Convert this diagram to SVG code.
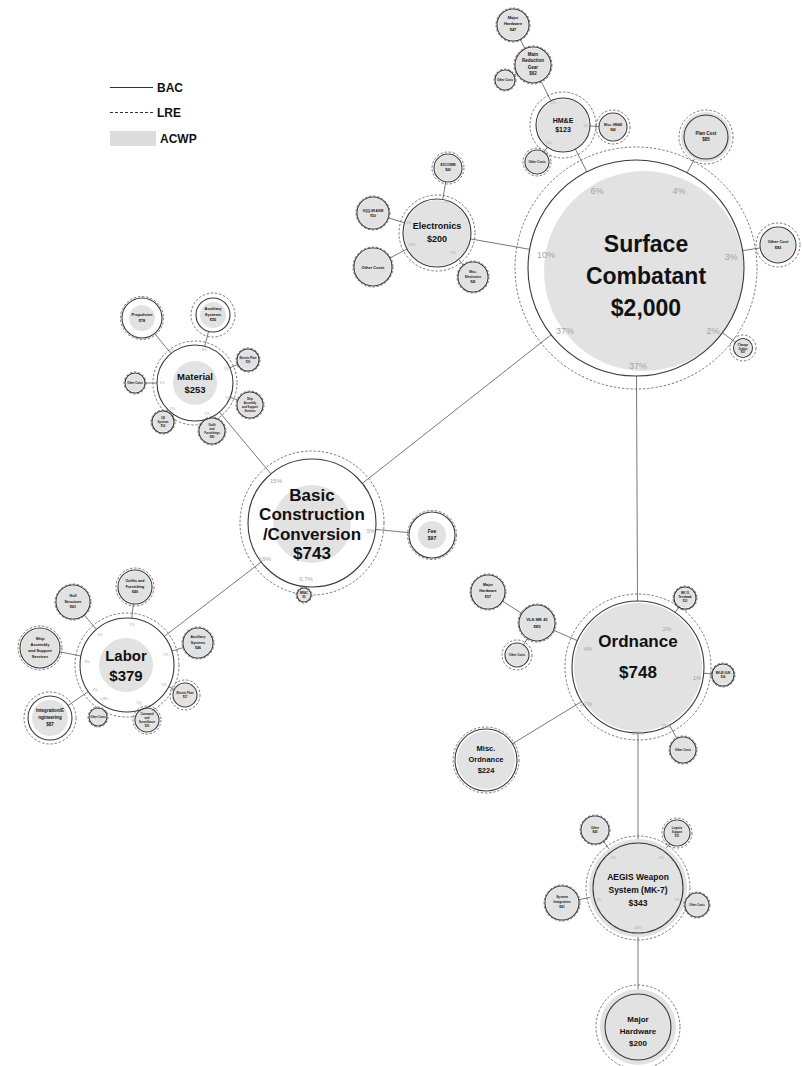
<svg xmlns="http://www.w3.org/2000/svg" width="802" height="1066" viewBox="0 0 802 1066">
<style>
  text { font-family: "Liberation Sans", Arial, sans-serif; font-weight: bold; fill: #111; text-anchor: middle; }
  .lre { fill: none; stroke: #555; stroke-width: 0.8; stroke-dasharray: 2.4 1.8; }
  .acwp { fill: #e2e2e2; stroke: none; }
  .bac { fill: none; stroke: #3a3a3a; stroke-width: 1.1; }
  .cn line { stroke: #6a6a6a; stroke-width: 0.9; }
  .pct { fill: #a3a3a3; font-weight: normal; font-size: 9px; }
  .pcs { fill: #a3a3a3; font-weight: normal; font-size: 3.5px; }
  .legend { font-size: 12px; text-anchor: start; }
</style>

<!-- legend -->
<g id="legend">
  <line x1="110" y1="87.5" x2="153" y2="87.5" stroke="#333" stroke-width="1.1"/>
  <text class="legend" x="157" y="92">BAC</text>
  <line x1="110" y1="112.5" x2="153" y2="112.5" stroke="#333" stroke-width="1" stroke-dasharray="3 2"/>
  <text class="legend" x="157" y="117">LRE</text>
  <rect x="110" y="131" width="46" height="15" fill="#dcdcdc"/>
  <text class="legend" x="160" y="143">ACWP</text>
</g>

<!-- connectors -->
<g id="connectors" class="cn">
  <line x1="687" y1="173" x2="696" y2="156"/>
  <line x1="742.5" y1="250.7" x2="760.3" y2="247.9"/>
  <line x1="722.5" y1="332.7" x2="735.8" y2="342.6"/>
  <line x1="586.9" y1="171.9" x2="575.3" y2="149"/>
  <line x1="529.6" y1="249.3" x2="470.5" y2="238.9"/>
  <line x1="636.5" y1="376" x2="637.5" y2="601"/>
  <line x1="551.1" y1="334.8" x2="362.3" y2="483.4"/>
  <line x1="550.9" y1="100.9" x2="541" y2="81.1"/>
  <line x1="525" y1="48.9" x2="520.2" y2="39.3"/>
  <line x1="517.2" y1="73.5" x2="513.8" y2="75.3"/>
  <line x1="590" y1="126" x2="599" y2="126.6"/>
  <line x1="547.5" y1="147.1" x2="543.9" y2="152.2"/>
  <line x1="442.7" y1="199.5" x2="445.7" y2="181.8"/>
  <line x1="404.5" y1="222.9" x2="388.3" y2="217.8"/>
  <line x1="407" y1="249" x2="389.8" y2="258.1"/>
  <line x1="458.5" y1="259.3" x2="463.5" y2="265.4"/>
  <line x1="171" y1="353.5" x2="154.6" y2="333.5"/>
  <line x1="204.7" y1="346.3" x2="208.6" y2="331.4"/>
  <line x1="229.8" y1="367.9" x2="237.9" y2="364.4"/>
  <line x1="230.3" y1="397.1" x2="237.9" y2="400.2"/>
  <line x1="157" y1="383" x2="145" y2="383"/>
  <line x1="219.4" y1="412.1" x2="271" y2="473.9"/>
  <line x1="375.7" y1="529.4" x2="409.1" y2="532.7"/>
  <line x1="261.2" y1="562" x2="164.3" y2="636.4"/>
  <line x1="96.4" y1="629.3" x2="84.1" y2="614.9"/>
  <line x1="131.8" y1="618.2" x2="133.3" y2="603.9"/>
  <line x1="171.9" y1="651.1" x2="183.7" y2="647.4"/>
  <line x1="168.7" y1="686.6" x2="174.3" y2="689.5"/>
  <line x1="80.8" y1="656" x2="59.6" y2="651.8"/>
  <line x1="88.3" y1="691.6" x2="68.1" y2="705.5"/>
  <line x1="577.5" y1="640.7" x2="553.5" y2="630.2"/>
  <line x1="521.8" y1="613.4" x2="502.4" y2="601.1"/>
  <line x1="527.5" y1="638.3" x2="523.4" y2="644.8"/>
  <line x1="675.2" y1="612.5" x2="678.8" y2="607.1"/>
  <line x1="703.7" y1="673.2" x2="712" y2="674"/>
  <line x1="669.5" y1="725" x2="676.8" y2="738.6"/>
  <line x1="581.7" y1="701.5" x2="511.6" y2="744.3"/>
  <line x1="638" y1="733" x2="638" y2="843"/>
  <line x1="611.2" y1="851.9" x2="603.3" y2="841.2"/>
  <line x1="664" y1="851.3" x2="669.5" y2="843.6"/>
  <line x1="593.9" y1="896.7" x2="578.7" y2="899.7"/>
  <line x1="681.2" y1="900.5" x2="685.5" y2="901.7"/>
  <line x1="638" y1="933" x2="638" y2="994"/>
</g>

<!-- Surface Combatant -->
<g id="surface-combatant">
  <circle class="lre" cx="636" cy="268" r="121"/>
  <circle class="acwp" cx="644" cy="271" r="100"/>
  <circle class="bac" cx="636" cy="268" r="108"/>
  <text x="646" y="252" font-size="23">Surface</text>
  <text x="646" y="284" font-size="23">Combatant</text>
  <text x="646" y="316" font-size="23">$2,000</text>
  <text class="pct" x="597" y="194">6%</text>
  <text class="pct" x="679" y="194">4%</text>
  <text class="pct" x="546" y="258">10%</text>
  <text class="pct" x="731" y="260">3%</text>
  <text class="pct" x="713" y="334">2%</text>
  <text class="pct" x="565" y="334">37%</text>
  <text class="pct" x="638" y="369">37%</text>
</g>
<g id="plan-cost">
  <circle class="lre" cx="706" cy="137" r="27"/>
  <circle class="acwp" cx="706" cy="137" r="25"/>
  <circle class="bac" cx="706" cy="137" r="22"/>
  <text x="706" y="135" font-size="4.5">Plan Cost</text>
  <text x="706" y="141" font-size="4.5">$85</text>
</g>
<g id="other-cost">
  <circle class="lre" cx="778" cy="245" r="22"/>
  <circle class="acwp" cx="778" cy="245" r="17"/>
  <circle class="bac" cx="778" cy="245" r="18"/>
  <text x="778" y="243" font-size="4">Other Cost</text>
  <text x="778" y="248.5" font-size="4">$83</text>
</g>
<g id="change-orders">
  <circle class="lre" cx="743" cy="348" r="13"/>
  <circle class="acwp" cx="743" cy="348" r="8.5"/>
  <circle class="bac" cx="743" cy="348" r="9.5"/>
  <text x="743" y="346" font-size="2.8">Change</text>
  <text x="743" y="349.5" font-size="2.8">Orders</text>
  <text x="743" y="353" font-size="2.8">$37</text>
</g>

<!-- HM&E branch -->
<g id="hme">
  <circle class="lre" cx="563" cy="125" r="33"/>
  <circle class="acwp" cx="563" cy="125" r="26"/>
  <circle class="bac" cx="563" cy="125" r="27"/>
  <text x="563" y="123" font-size="7">HM&amp;E</text>
  <text x="563" y="132" font-size="7">$123</text>
  <text class="pcs" x="553" y="104">1%</text>
  <text class="pcs" x="586" y="127">1%</text>
  <text class="pcs" x="549" y="144">1%</text>
</g>
<g id="main-reduction-gear">
  <circle class="lre" cx="533" cy="65" r="19"/>
  <circle class="acwp" cx="533" cy="65" r="17"/>
  <circle class="bac" cx="533" cy="65" r="18"/>
  <text x="533" y="56" font-size="4.5">Main</text>
  <text x="533" y="62" font-size="4.5">Reduction</text>
  <text x="533" y="69" font-size="4.5">Gear</text>
  <text x="533" y="75" font-size="4.5">$62</text>
</g>
<g id="hme-major-hardware">
  <circle class="lre" cx="513" cy="25" r="17"/>
  <circle class="acwp" cx="513" cy="25" r="15"/>
  <circle class="bac" cx="513" cy="25" r="16"/>
  <text x="513" y="19" font-size="4">Major</text>
  <text x="513" y="25" font-size="4">Hardware</text>
  <text x="513" y="31" font-size="4">$47</text>
</g>
<g id="mrg-other-costs">
  <circle class="lre" cx="505" cy="80" r="11"/>
  <circle class="acwp" cx="505" cy="80" r="9"/>
  <circle class="bac" cx="505" cy="80" r="10"/>
  <text x="505" y="81" font-size="2.8">Other Costs</text>
</g>
<g id="misc-hme">
  <circle class="lre" cx="613" cy="127" r="17"/>
  <circle class="acwp" cx="613" cy="127" r="13"/>
  <circle class="bac" cx="613" cy="127" r="14"/>
  <text x="613" y="126" font-size="3.2">Misc. HM&amp;E</text>
  <text x="613" y="130.5" font-size="3.2">$44</text>
</g>
<g id="hme-other-costs">
  <circle class="lre" cx="537" cy="162" r="14"/>
  <circle class="acwp" cx="537" cy="162" r="11"/>
  <circle class="bac" cx="537" cy="162" r="12"/>
  <text x="537" y="163" font-size="3">Other Costs</text>
</g>

<!-- Electronics branch -->
<g id="electronics">
  <circle class="lre" cx="437" cy="233" r="38"/>
  <circle class="acwp" cx="437" cy="233" r="33"/>
  <circle class="bac" cx="437" cy="233" r="34"/>
  <text x="437" y="229" font-size="9">Electronics</text>
  <text x="437" y="242" font-size="9">$200</text>
  <text class="pcs" x="446" y="203">2%</text>
  <text class="pcs" x="409" y="224">3%</text>
  <text class="pcs" x="412" y="246">10%</text>
  <text class="pcs" x="453" y="254">2%</text>
</g>
<g id="excomm">
  <circle class="lre" cx="448" cy="168" r="16"/>
  <circle class="acwp" cx="448" cy="168" r="13"/>
  <circle class="bac" cx="448" cy="168" r="14"/>
  <text x="448" y="166" font-size="3.3">EXCOMM</text>
  <text x="448" y="171" font-size="3.3">$40</text>
</g>
<g id="sqq-89">
  <circle class="lre" cx="373" cy="213" r="17"/>
  <circle class="acwp" cx="373" cy="213" r="15"/>
  <circle class="bac" cx="373" cy="213" r="16"/>
  <text x="373" y="212" font-size="3.3">SQQ-89 ASW</text>
  <text x="373" y="217" font-size="3.3">$50</text>
</g>
<g id="electronics-other-costs">
  <circle class="lre" cx="373" cy="267" r="20"/>
  <circle class="acwp" cx="373" cy="267" r="18"/>
  <circle class="bac" cx="373" cy="267" r="19"/>
  <text x="373" y="268.5" font-size="4">Other Costs</text>
</g>
<g id="misc-electronics">
  <circle class="lre" cx="473" cy="277" r="16"/>
  <circle class="acwp" cx="473" cy="277" r="14"/>
  <circle class="bac" cx="473" cy="277" r="15"/>
  <text x="473" y="273" font-size="3">Misc.</text>
  <text x="473" y="278" font-size="3">Electronics</text>
  <text x="473" y="283" font-size="3">$40</text>
</g>

<!-- Basic Construction / Conversion -->
<g id="basic-construction">
  <circle class="lre" cx="312" cy="523" r="72"/>
  <circle class="acwp" cx="312" cy="524" r="39"/>
  <circle class="bac" cx="312" cy="523" r="64"/>
  <text x="312" y="501" font-size="17">Basic</text>
  <text x="312" y="520" font-size="17">Construction</text>
  <text x="312" y="540" font-size="17">/Conversion</text>
  <text x="312" y="559" font-size="17">$743</text>
  <text class="pct" x="276" y="483" style="font-size:6px">15%</text>
  <text class="pct" x="371" y="533" style="font-size:6px">5%</text>
  <text class="pct" x="265" y="561" style="font-size:6px">19%</text>
  <text class="pct" x="306" y="581" style="font-size:6px">0.7%</text>
</g>
<g id="fee">
  <circle class="lre" cx="432" cy="535" r="24.5"/>
  <circle class="acwp" cx="432" cy="535" r="14"/>
  <circle class="bac" cx="432" cy="535" r="23"/>
  <text x="432" y="533" font-size="5">Fee</text>
  <text x="432" y="540" font-size="5">$97</text>
</g>
<g id="brac">
  <circle class="lre" cx="304" cy="595" r="8"/>
  <circle class="acwp" cx="304" cy="595" r="6"/>
  <circle class="bac" cx="304" cy="595" r="7"/>
  <text x="304" y="594" font-size="2.7">BRAC</text>
  <text x="304" y="598" font-size="2.7">$5</text>
</g>

<!-- Material branch -->
<g id="material">
  <circle class="lre" cx="195" cy="383" r="42"/>
  <circle class="acwp" cx="195" cy="383" r="22"/>
  <circle class="bac" cx="195" cy="383" r="38"/>
  <text x="195" y="380" font-size="9.5">Material</text>
  <text x="195" y="393" font-size="9.5">$253</text>
  <text class="pcs" x="172" y="352">5%</text>
  <text class="pcs" x="204" y="351">3%</text>
  <text class="pcs" x="226" y="370">1%</text>
  <text class="pcs" x="228" y="399">1%</text>
  <text class="pcs" x="207" y="415">2%</text>
  <text class="pcs" x="172" y="410">1%</text>
  <text class="pcs" x="162" y="384">1%</text>
</g>
<g id="propulsion">
  <circle class="lre" cx="142" cy="318" r="21.5"/>
  <circle class="acwp" cx="142" cy="318" r="13"/>
  <circle class="bac" cx="142" cy="318" r="20"/>
  <text x="142" y="316" font-size="4">Propulsion</text>
  <text x="142" y="322" font-size="4">$78</text>
</g>
<g id="material-auxiliary">
  <circle class="lre" cx="213" cy="315" r="22"/>
  <circle class="acwp" cx="213" cy="315" r="13"/>
  <circle class="bac" cx="213" cy="315" r="17"/>
  <text x="213" y="310" font-size="4">Auxiliary</text>
  <text x="213" y="315.5" font-size="4">Systems</text>
  <text x="213" y="321" font-size="4">$55</text>
</g>
<g id="material-electric">
  <circle class="lre" cx="248" cy="360" r="12"/>
  <circle class="acwp" cx="248" cy="360" r="10"/>
  <circle class="bac" cx="248" cy="360" r="11"/>
  <text x="248" y="359" font-size="2.7">Electric Plant</text>
  <text x="248" y="363" font-size="2.7">$30</text>
</g>
<g id="material-ship-assembly">
  <circle class="lre" cx="250" cy="405" r="14"/>
  <circle class="acwp" cx="250" cy="405" r="12"/>
  <circle class="bac" cx="250" cy="405" r="13"/>
  <text x="250" y="399.5" font-size="2.7">Ship</text>
  <text x="250" y="403.5" font-size="2.7">Assembly</text>
  <text x="250" y="407.5" font-size="2.7">and Support</text>
  <text x="250" y="411.5" font-size="2.7">Services</text>
</g>
<g id="material-outfit">
  <circle class="lre" cx="212" cy="431" r="14"/>
  <circle class="acwp" cx="212" cy="431" r="12"/>
  <circle class="bac" cx="212" cy="431" r="13"/>
  <text x="212" y="425.5" font-size="2.7">Outfit</text>
  <text x="212" y="429.5" font-size="2.7">and</text>
  <text x="212" y="433.5" font-size="2.7">Furnishings</text>
  <text x="212" y="437.5" font-size="2.7">$40</text>
</g>
<g id="material-c4i">
  <circle class="lre" cx="163" cy="422" r="12"/>
  <circle class="acwp" cx="163" cy="422" r="10"/>
  <circle class="bac" cx="163" cy="422" r="11"/>
  <text x="163" y="418.5" font-size="2.7">C4I</text>
  <text x="163" y="422.5" font-size="2.7">Systems</text>
  <text x="163" y="426.5" font-size="2.7">$16</text>
</g>
<g id="material-other-costs">
  <circle class="lre" cx="135" cy="383" r="11"/>
  <circle class="acwp" cx="135" cy="383" r="9"/>
  <circle class="bac" cx="135" cy="383" r="10"/>
  <text x="135" y="384" font-size="2.7">Other Costs</text>
</g>

<!-- Labor branch -->
<g id="labor">
  <circle class="lre" cx="127" cy="665" r="52"/>
  <circle class="acwp" cx="126" cy="665" r="27"/>
  <circle class="bac" cx="127" cy="665" r="47"/>
  <text x="126" y="661" font-size="15">Labor</text>
  <text x="126" y="681" font-size="15">$379</text>
  <text class="pcs" x="100" y="636">2%</text>
  <text class="pcs" x="132" y="626">2%</text>
  <text class="pcs" x="166" y="656">2%</text>
  <text class="pcs" x="87" y="663">3%</text>
  <text class="pcs" x="164" y="686">2%</text>
  <text class="pcs" x="95" y="691">4%</text>
  <text class="pcs" x="104" y="700">0.8%</text>
  <text class="pcs" x="139" y="704">1%</text>
</g>
<g id="hull-structure">
  <circle class="lre" cx="73" cy="602" r="18"/>
  <circle class="acwp" cx="73" cy="602" r="16"/>
  <circle class="bac" cx="73" cy="602" r="17"/>
  <text x="73" y="597" font-size="3.8">Hull</text>
  <text x="73" y="602.5" font-size="3.8">Structure</text>
  <text x="73" y="608" font-size="3.8">$61</text>
</g>
<g id="labor-outfits">
  <circle class="lre" cx="135" cy="587" r="19"/>
  <circle class="acwp" cx="135" cy="587" r="16"/>
  <circle class="bac" cx="135" cy="587" r="17"/>
  <text x="135" y="582" font-size="3.6">Outfits and</text>
  <text x="135" y="587.5" font-size="3.6">Furnishing</text>
  <text x="135" y="593" font-size="3.6">$49</text>
</g>
<g id="labor-auxiliary">
  <circle class="lre" cx="198" cy="643" r="16"/>
  <circle class="acwp" cx="198" cy="643" r="14"/>
  <circle class="bac" cx="198" cy="643" r="15"/>
  <text x="198" y="638" font-size="3.5">Auxiliary</text>
  <text x="198" y="643.5" font-size="3.5">Systems</text>
  <text x="198" y="649" font-size="3.5">$46</text>
</g>
<g id="labor-electric">
  <circle class="lre" cx="185" cy="695" r="15"/>
  <circle class="acwp" cx="185" cy="695" r="11"/>
  <circle class="bac" cx="185" cy="695" r="12"/>
  <text x="185" y="694" font-size="2.7">Electric Plant</text>
  <text x="185" y="698" font-size="2.7">$27</text>
</g>
<g id="labor-command">
  <circle class="lre" cx="147" cy="720" r="14"/>
  <circle class="acwp" cx="147" cy="720" r="11"/>
  <circle class="bac" cx="147" cy="720" r="12"/>
  <text x="147" y="714.5" font-size="2.7">Command</text>
  <text x="147" y="718.5" font-size="2.7">and</text>
  <text x="147" y="722.5" font-size="2.7">Surveillance</text>
  <text x="147" y="726.5" font-size="2.7">$20</text>
</g>
<g id="labor-other-costs">
  <circle class="lre" cx="98" cy="717" r="10"/>
  <circle class="acwp" cx="98" cy="717" r="8"/>
  <circle class="bac" cx="98" cy="717" r="9"/>
  <text x="98" y="718" font-size="2.7">Other Costs</text>
</g>
<g id="labor-ship-assembly">
  <circle class="lre" cx="40" cy="648" r="22"/>
  <circle class="acwp" cx="40" cy="648" r="19"/>
  <circle class="bac" cx="40" cy="648" r="20"/>
  <text x="40" y="640" font-size="4">Ship</text>
  <text x="40" y="646" font-size="4">Assembly</text>
  <text x="40" y="652" font-size="4">and Support</text>
  <text x="40" y="658" font-size="4">Services</text>
</g>
<g id="integration-engineering">
  <circle class="lre" cx="50" cy="718" r="26"/>
  <circle class="acwp" cx="50" cy="718" r="18"/>
  <circle class="bac" cx="50" cy="718" r="22"/>
  <text x="50" y="712" font-size="4.6">Integration/E</text>
  <text x="50" y="719" font-size="4.6">ngineering</text>
  <text x="50" y="726" font-size="4.6">$87</text>
</g>

<!-- Ordnance branch -->
<g id="ordnance">
  <circle class="lre" cx="638" cy="667" r="73"/>
  <circle class="acwp" cx="638" cy="667" r="64"/>
  <circle class="bac" cx="638" cy="667" r="66"/>
  <text x="638" y="647" font-size="17">Ordnance</text>
  <text x="638" y="678" font-size="17">$748</text>
  <text class="pct" x="588" y="651" style="font-size:6px">4%</text>
  <text class="pct" x="667" y="631" style="font-size:6px">2%</text>
  <text class="pct" x="697" y="680" style="font-size:6px">1%</text>
  <text class="pct" x="666" y="728" style="font-size:6px">2%</text>
  <text class="pct" x="586" y="706" style="font-size:6px">21%</text>
  <text class="pct" x="638" y="735" style="font-size:6px">17%</text>
</g>
<g id="vls-mk41">
  <circle class="lre" cx="537" cy="623" r="19"/>
  <circle class="acwp" cx="537" cy="623" r="17"/>
  <circle class="bac" cx="537" cy="623" r="18"/>
  <text x="537" y="621" font-size="4.2">VLS MK 41</text>
  <text x="537" y="627.5" font-size="4.2">$85</text>
</g>
<g id="vls-major-hardware">
  <circle class="lre" cx="488" cy="592" r="18"/>
  <circle class="acwp" cx="488" cy="592" r="16"/>
  <circle class="bac" cx="488" cy="592" r="17"/>
  <text x="488" y="586" font-size="3.8">Major</text>
  <text x="488" y="592" font-size="3.8">Hardware</text>
  <text x="488" y="598" font-size="3.8">$57</text>
</g>
<g id="vls-other-costs">
  <circle class="lre" cx="517" cy="655" r="15"/>
  <circle class="acwp" cx="517" cy="655" r="11"/>
  <circle class="bac" cx="517" cy="655" r="12"/>
  <text x="517" y="656" font-size="2.8">Other Costs</text>
</g>
<g id="mk15">
  <circle class="lre" cx="685" cy="598" r="12"/>
  <circle class="acwp" cx="685" cy="598" r="10"/>
  <circle class="bac" cx="685" cy="598" r="11"/>
  <text x="685" y="593.5" font-size="2.7">MK 15</text>
  <text x="685" y="597.5" font-size="2.7">Terrahawk</text>
  <text x="685" y="601.5" font-size="2.7">$33</text>
</g>
<g id="mk45">
  <circle class="lre" cx="723" cy="675" r="12"/>
  <circle class="acwp" cx="723" cy="675" r="10"/>
  <circle class="bac" cx="723" cy="675" r="11"/>
  <text x="723" y="674" font-size="2.7">MK 45 GUN</text>
  <text x="723" y="678" font-size="2.7">$24</text>
</g>
<g id="ordnance-other-costs">
  <circle class="lre" cx="683" cy="750" r="14"/>
  <circle class="acwp" cx="683" cy="750" r="12"/>
  <circle class="bac" cx="683" cy="750" r="13"/>
  <text x="683" y="751" font-size="2.8">Other Costs</text>
</g>
<g id="misc-ordnance">
  <circle class="lre" cx="486" cy="760" r="33"/>
  <circle class="acwp" cx="486" cy="760" r="29"/>
  <circle class="bac" cx="486" cy="760" r="31"/>
  <text x="486" y="751" font-size="7.5">Misc.</text>
  <text x="486" y="762" font-size="7.5">Ordnance</text>
  <text x="486" y="773" font-size="7.5">$224</text>
</g>

<!-- AEGIS branch -->
<g id="aegis">
  <circle class="lre" cx="638" cy="888" r="52"/>
  <circle class="acwp" cx="638" cy="888" r="49"/>
  <circle class="bac" cx="638" cy="888" r="45"/>
  <text x="638" y="880" font-size="8.5">AEGIS Weapon</text>
  <text x="638" y="893" font-size="8.5">System (MK-7)</text>
  <text x="638" y="906" font-size="8.5">$343</text>
  <text class="pcs" x="613" y="859">2%</text>
  <text class="pcs" x="661" y="859">2%</text>
  <text class="pcs" x="599" y="901">1%</text>
  <text class="pcs" x="677" y="901">1%</text>
  <text class="pcs" x="638" y="929">10%</text>
</g>
<g id="aegis-other">
  <circle class="lre" cx="595" cy="830" r="15"/>
  <circle class="acwp" cx="595" cy="830" r="13"/>
  <circle class="bac" cx="595" cy="830" r="14"/>
  <text x="595" y="828.5" font-size="3">Other</text>
  <text x="595" y="833" font-size="3">$43</text>
</g>
<g id="logistic-support">
  <circle class="lre" cx="677" cy="833" r="15"/>
  <circle class="acwp" cx="677" cy="833" r="12"/>
  <circle class="bac" cx="677" cy="833" r="13"/>
  <text x="677" y="829" font-size="2.7">Logistic</text>
  <text x="677" y="833" font-size="2.7">Support</text>
  <text x="677" y="837" font-size="2.7">$31</text>
</g>
<g id="system-integration">
  <circle class="lre" cx="562" cy="903" r="18"/>
  <circle class="acwp" cx="562" cy="903" r="16"/>
  <circle class="bac" cx="562" cy="903" r="17"/>
  <text x="562" y="898" font-size="3.3">System</text>
  <text x="562" y="903" font-size="3.3">Integration</text>
  <text x="562" y="908" font-size="3.3">$41</text>
</g>
<g id="aegis-other-costs">
  <circle class="lre" cx="697" cy="905" r="13"/>
  <circle class="acwp" cx="697" cy="905" r="11"/>
  <circle class="bac" cx="697" cy="905" r="12"/>
  <text x="697" y="906" font-size="2.7">Other Costs</text>
</g>
<g id="aegis-major-hardware">
  <circle class="lre" cx="638" cy="1027" r="42"/>
  <circle class="acwp" cx="638" cy="1027" r="38"/>
  <circle class="bac" cx="638" cy="1027" r="33"/>
  <text x="638" y="1022" font-size="8">Major</text>
  <text x="638" y="1034" font-size="8">Hardware</text>
  <text x="638" y="1046" font-size="8">$200</text>
</g>
</svg>
